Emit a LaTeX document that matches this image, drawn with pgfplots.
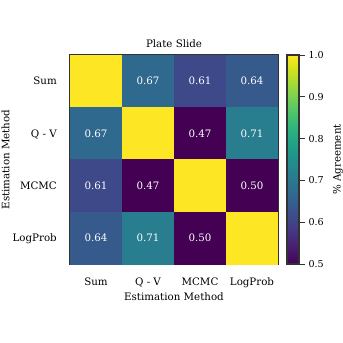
\documentclass[border=0pt]{standalone}
\usepackage{fontspec}
\setmainfont{DejaVu Serif}
\usepackage{pgfplots}
\pgfplotsset{compat=1.18}
\usepackage{pgfplotstable}

% agreement matrix, row by row (x = column, y = row)
\pgfplotstableread{
x y c
0 0 1.00
1 0 0.67
2 0 0.61
3 0 0.64
0 1 0.67
1 1 1.00
2 1 0.47
3 1 0.71
0 2 0.61
1 2 0.47
2 2 1.00
3 2 0.50
0 3 0.64
1 3 0.71
2 3 0.50
3 3 1.00
}\agree

% annotated cells (off the diagonal)
\pgfplotstableread{
x y c
1 0 0.67
2 0 0.61
3 0 0.64
0 1 0.67
2 1 0.47
3 1 0.71
0 2 0.61
1 2 0.47
3 2 0.50
0 3 0.64
1 3 0.71
2 3 0.50
}\labels

\begin{document}
\begin{tikzpicture}[x=1bp,y=1bp]
\path (0,0) rectangle (343,343);
\begin{axis}[
    at={(70bp,79bp)}, anchor=south west,
    scale only axis, width=208bp, height=209bp,
    xmin=-0.5, xmax=3.5, ymin=-0.5, ymax=3.5,
    y dir=reverse,
    xtick={0,1,2,3}, ytick={0,1,2,3},
    xticklabels={Sum,Q - V,MCMC,LogProb},
    yticklabels={Sum,Q - V,MCMC,LogProb},
    major tick length=0pt,
    font=\fontsize{10.3}{12}\selectfont,
    xticklabel style={anchor=base, inner sep=0pt, yshift=-21.5bp},
    yticklabel style={anchor=base east, inner sep=0pt, xshift=-13bp, yshift=-3.7bp},
    axis line style={draw=black!80, line width=1.2pt},
    title={Plate Slide},
    title style={at={(axis description cs:0.5,1.026)}, anchor=center, inner sep=0pt},
    xlabel={Estimation Method},
    xlabel style={at={(axis description cs:0.5,-0.158)}, anchor=center, inner sep=0pt},
    ylabel={Estimation Method},
    ylabel style={at={(axis description cs:-0.31,0.5)}, anchor=center, inner sep=0pt},
    colormap/viridis,
    point meta min=0.5, point meta max=1.0,
    colorbar,
    colorbar style={
        at={(parent axis.north east)}, anchor=north west, xshift=0.5bp,
        scale only axis, width=12bp, height=209bp,
        ytick={0.5,0.6,0.7,0.8,0.9,1.0},
        ytick pos=right, yticklabel pos=right,
        tick align=outside, major tick length=6bp,
        tick style={draw=black!80, line width=0.9pt},
        yticklabel style={
            /pgf/number format/.cd, fixed, fixed zerofill, precision=1,
            assume math mode=true, /tikz/.cd,
            font=\fontsize{9.6}{11}\selectfont},
        axis line style={draw=black!80, line width=1.1pt},
        ylabel={\% Agreement},
        ylabel style={at={(axis description cs:4.25,0.5)}, anchor=center,
            inner sep=0pt, font=\fontsize{10.3}{12}\selectfont},
    },
]
\addplot[matrix plot*, mesh/cols=4, point meta=explicit, draw=none]
    table[x=x, y=y, meta=c] {\agree};
\addplot[only marks, mark=none, point meta=explicit,
    nodes near coords,
    nodes near coords align=center,
    every node near coord/.append style={text=white, anchor=center,
        font=\fontsize{10.3}{12}\selectfont,
        /pgf/number format/.cd, fixed, fixed zerofill, precision=2,
        assume math mode=true}]
    table[x=x, y=y, meta=c] {\labels};
\end{axis}
\end{tikzpicture}
\end{document}
